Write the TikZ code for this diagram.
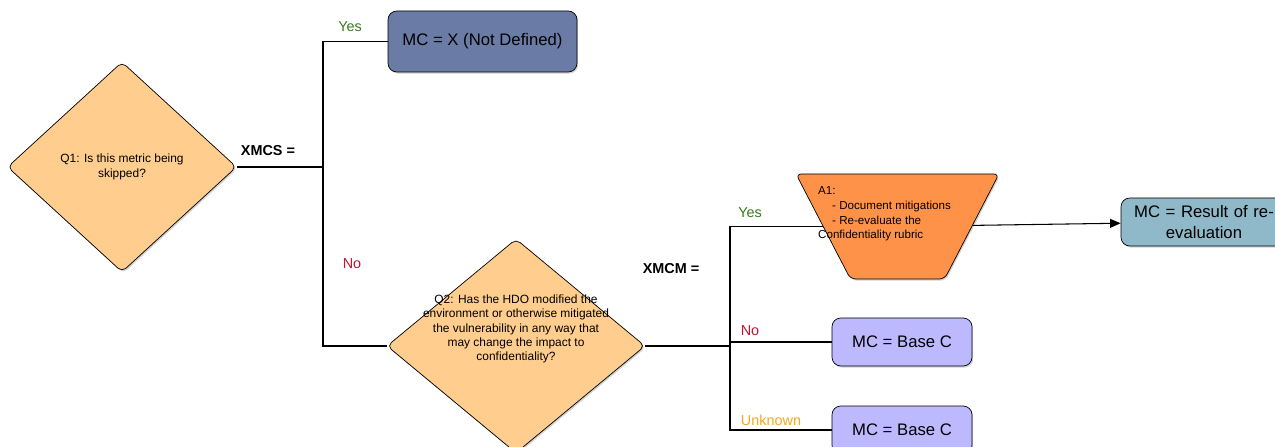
\documentclass[tikz,border=0pt]{standalone}
\usepackage{fontspec}
\setmainfont{Liberation Sans}
\usetikzlibrary{shapes.geometric,shadows,arrows.meta}

\definecolor{qfill}{RGB}{255,206,142}
\definecolor{skipfill}{RGB}{106,124,166}
\definecolor{actfill}{RGB}{255,146,73}
\definecolor{resfill}{RGB}{143,184,200}
\definecolor{basefill}{RGB}{189,185,255}
\definecolor{yescol}{RGB}{58,122,30}
\definecolor{nocol}{RGB}{196,20,46}
\definecolor{unkcol}{RGB}{245,166,35}

\begin{document}
\begin{tikzpicture}[wire/.style={line width=0.6pt},
    shadowed/.style={drop shadow={shadow xshift=0.7pt,shadow yshift=-0.9pt,opacity=0.35}},
    question/.style={diamond,draw,fill=qfill,rounded corners=3pt,shadowed,
        font=\fontsize{6.8}{8.2}\selectfont,align=center},
    outcome/.style={rectangle,draw,rounded corners=5pt,shadowed,
        font=\fontsize{9.5}{11.5}\selectfont,align=center},
    answer/.style={font=\fontsize{8.2}{10}\selectfont},
    metric/.style={font=\bfseries\fontsize{8.2}{10}\selectfont}]
    \useasboundingbox (0,0) rectangle (25.5,8.92);

    % questions
    \node[question,minimum width=4.58cm,minimum height=4.2cm] (q1) at (2.44,5.58)
        {Q1: Is this metric being\\skipped?};
    \node[question,minimum width=5.16cm,minimum height=4.28cm] (q2) at (10.32,2.00) {};
    \node[font=\fontsize{6.8}{8.2}\selectfont,align=center] (q2text) at (10.32,2.34)
        {Q2: Has the HDO modified the\\environment or otherwise mitigated\\the vulnerability in any way that\\may change the impact to\\confidentiality?};

    % outcomes
    \node[outcome,fill=skipfill,minimum width=3.78cm,minimum height=1.22cm] (mcx) at (9.65,8.09)
        {MC = X (Not Defined)};
    \node[trapezium,shape border rotate=180,trapezium stretches=true,draw,fill=actfill,
        rounded corners=3pt,shadowed,minimum width=4.06cm,minimum height=2.1cm] (a1) at (17.95,4.39) {};
    \node[anchor=north west,align=left,font=\fontsize{6.6}{8.5}\selectfont] (a1text) at (16.24,5.32)
        {A1:\\\hspace*{0.28cm}- Document mitigations\\\hspace*{0.28cm}- Re-evaluate the\\Confidentiality rubric};
    \node[outcome,fill=resfill,minimum width=3.32cm,minimum height=0.96cm,text width=3cm] (res) at (24.08,4.48)
        {MC = Result of re-\\evaluation};
    \node[outcome,fill=basefill,minimum width=2.8cm,minimum height=0.96cm] (base1) at (18.04,2.08) {MC = Base C};
    \node[outcome,fill=basefill,minimum width=2.8cm,minimum height=0.96cm] (base2) at (18.04,0.32) {MC = Base C};

    % branches
    \coordinate (j1) at (6.46,5.58);
    \coordinate (j2) at (14.60,2.00);
    \draw[wire] (q1) -- (j1);
    \draw[wire] (j1) |- (mcx);
    \draw[wire] (j1) |- (q2);
    \draw[wire] (q2) -- (j2);
    \draw[wire] (j2) |- (a1);
    \draw[wire] (j2) |- (base1);
    \draw[wire] (j2) |- (base2);
    \draw[wire,-{Triangle[length=6pt,width=5pt]}] (a1) -- (res);

    % labels
    \node[metric] (xmcs) at (5.36,5.90) {XMCS =};
    \node[metric] (xmcm) at (13.42,3.54) {XMCM =};
    \node[answer,text=yescol] (yes1) at (7.00,8.38) {Yes};
    \node[answer,text=nocol] (no1) at (7.04,3.64) {No};
    \node[answer,text=yescol] (yes2) at (15.00,4.66) {Yes};
    \node[answer,text=nocol] (no2) at (15.00,2.30) {No};
    \node[answer,text=unkcol] (unk) at (15.42,0.52) {Unknown};
\end{tikzpicture}
\end{document}
